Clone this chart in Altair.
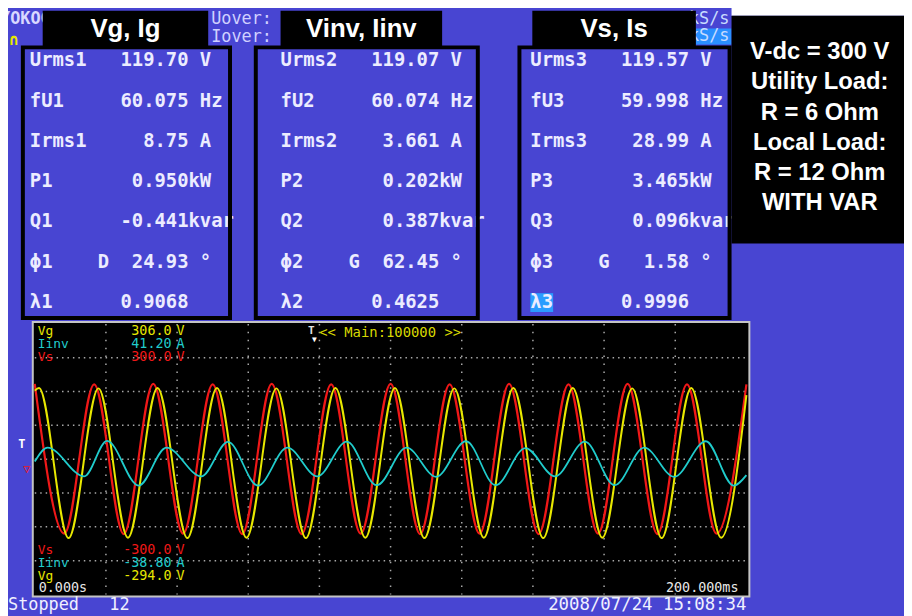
import altair as alt
import pandas as pd

# ---------------- data ----------------
panel_titles = ["Vg, Ig", "Vinv, Iinv", "Vs, Is"]
meter_labels = [
    ["Urms1", "fU1", "Irms1", "P1", "Q1", "\u03d51", "\u03bb1"],
    ["Urms2", "fU2", "Irms2", "P2", "Q2", "\u03d52", "\u03bb2"],
    ["Urms3", "fU3", "Irms3", "P3", "Q3", "\u03d53", "\u03bb3"],
]
meter_values = [
    ["119.70", "60.075", "8.75", "0.950", "-0.441", "24.93", "0.9068"],
    ["119.07", "60.074", "3.661", "0.202", "0.387", "62.45", "0.4625"],
    ["119.57", "59.998", "28.99", "3.465", "0.096", "1.58", "0.9996"],
]
meter_units = [" V", " Hz", " A", "kW", "kvar", " \u00b0", ""]
phase_flags = ["D", "G", "G"]
info_lines = ["V-dc = 300 V", "Utility Load:", "R = 6 Ohm", "Local Load:", "R = 12 Ohm", "WITH VAR"]

scope_top_labels = ["Vg", "Iinv", "Vs"]
scope_top_values = ["306.0", "41.20", "300.0"]
scope_top_units = ["V", "A", "V"]
scope_bottom_labels = ["Vs", "Iinv", "Vg"]
scope_bottom_values = ["-300.0", "-38.80", "-294.0"]
scope_bottom_units = ["V", "A", "V"]
time_labels = ["0.000s", "200.000ms"]
time_span_ms = [0, 200]
time_grid_ms = [20, 40, 60, 80, 100, 120, 140, 160, 180]
vs_grid_v = [-225, -150, -75, 0, 75, 150, 225]
status_left = "Stopped   12"
status_right = "2008/07/24 15:08:34"
main_label = "<< Main:100000 >>"

# waveform extrema (time ms, value)
vs_t = [0, 8.3, 16.7, 25.0, 33.3, 41.7, 50.0, 58.3, 66.6, 75.0, 83.3, 91.6, 100.0,
        108.3, 116.6, 125.0, 133.3, 141.6, 150.0, 158.3, 166.6, 175.0, 183.3, 191.6, 200.0]
vs_v = [167, -165, 166, -166, 167, -165, 166, -166, 167, -166, 166, -165, 167,
        -166, 166, -165, 167, -166, 166, -165, 167, -166, 166, -165, 166]
vg_t = [0, 1.2, 9.5, 17.9, 26.2, 34.5, 42.9, 51.2, 59.5, 67.9, 76.2, 84.5, 92.9, 101.2,
        109.5, 117.9, 126.2, 134.5, 142.9, 151.2, 159.5, 167.9, 176.2, 184.5, 192.9, 200.0]
vg_v = [158, 164, -169, 163, -168, 164, -169, 164, -168, 163, -169, 164, -168, 164,
        -169, 163, -168, 164, -169, 164, -168, 163, -169, 164, -168, 148]
iinv_t = [0, 3.6, 13.9, 20.3, 29.2, 37.0, 46.8, 54.3, 62.7, 71.0, 79.4, 87.7, 96.1,
          104.5, 112.8, 121.2, 129.5, 137.9, 146.2, 154.6, 163.0, 171.3, 179.7, 188.6, 196.4, 200.0]
iinv_v = [0.5, 4.6, -3.9, 6.6, -6.6, 4.6, -3.9, 6.3, -6.6, 4.6, -3.9, 6.4, -6.5,
          4.6, -4.0, 6.5, -6.5, 4.5, -3.9, 6.4, -6.5, 4.6, -4.0, 6.5, -6.6, -3.5]

# ---------------- styling / layout ----------------
BLUE = "#4845d2"
TXT = "#ececff"
MONO = "DejaVu Sans Mono"
SANS = "Liberation Sans"
YEL, CYA, RED = "#e8e800", "#20cccc", "#f01818"
OX, OY = 8, 8  # page margin
NB = "\u00a0"


def px(x):
    return x - OX


def py(y):
    return y - OY


def keep_spaces(s):
    return s.replace(" ", NB)


dummy = pd.DataFrame({"k": [0]})


def rect(x0, y0, x1, y1, **kw):
    return alt.Chart(dummy).mark_rect(**kw).encode(
        x=alt.value(px(x0)), x2=alt.value(px(x1)), y=alt.value(py(y0)), y2=alt.value(py(y1)))


def label(text, x, y, **kw):
    kw.setdefault("baseline", "middle")
    return alt.Chart(dummy).mark_text(text=keep_spaces(text), **kw).encode(
        x=alt.value(px(x)), y=alt.value(py(y)))


layers = []

# top white strip on the right
layers.append(rect(738, 0, 920, 13, fill="white"))

# background screen texts
layers.append(label("YOKOGAWA", 0, 16, align="left", font=MONO, fontSize=17, fontWeight="bold", color="#d8d8ff"))
layers.append(label("\u2229", 14, 38, align="center", font=MONO, fontSize=16, fontWeight="bold", color="#e8e800"))
layers.append(label("Uover:", 213, 16, align="left", font=MONO, fontSize=17, color="#d0d0ff"))
layers.append(label("Iover:", 213, 35, align="left", font=MONO, fontSize=17, color="#d0d0ff"))
layers.append(rect(702, 26, 738, 42, fill="#2a90ff"))
layers.append(label("kS/s", 695, 16, align="left", font=MONO, fontSize=17, color="#c8dcff"))
layers.append(label("kS/s", 695, 34, align="left", font=MONO, fontSize=17, color="#c8dcff"))

# meter panels
panel_x = [30, 283, 535]
panel_box = [(23, 232), (258, 482), (524, 736)]
layers.append(rect(535, 293, 558, 312, fill="#2a9cff"))
for i in range(3):
    rows = []
    for j, (lab, val, unit) in enumerate(zip(meter_labels[i], meter_values[i], meter_units)):
        head = lab.ljust(6) + (phase_flags[i] if j == 5 else " ")
        rows.append({"row": j, "line": keep_spaces(head + val.rjust(7) + unit)})
    layers.append(
        alt.Chart(pd.DataFrame(rows)).mark_text(
            align="left", baseline="middle", font=MONO, fontSize=19, fontWeight="bold", color=TXT
        ).encode(
            x=alt.value(px(panel_x[i])),
            y=alt.Y("row:Q", scale=alt.Scale(domain=[0, 6], range=[py(58), py(302)]), axis=None),
            text="line:N",
        )
    )
for (x0, x1) in panel_box:
    layers.append(rect(x0, 45, x1, 318, fillOpacity=0, stroke="black", strokeWidth=4))

# title boxes
title_boxes = [(43, 210), (283, 446), (537, 702)]
for (x0, x1), t in zip(title_boxes, panel_titles):
    layers.append(rect(x0, 8, x1, 45, fill="black"))
    layers.append(label(t, (x0 + x1) / 2, 35, align="center", baseline="alphabetic",
                        font=SANS, fontSize=26, fontWeight="bold", color="white"))

# right info box
layers.append(rect(738, 13, 920, 243, fill="black"))
layers.append(
    alt.Chart(pd.DataFrame({"row": list(range(len(info_lines))), "line": info_lines})).mark_text(
        align="center", baseline="middle", font=SANS, fontSize=24, fontWeight="bold", color="white"
    ).encode(
        x=alt.value(px(827)),
        y=alt.Y("row:Q", scale=alt.Scale(domain=[0, 5], range=[py(50), py(202)]), axis=None),
        text="line:N",
    )
)

# oscilloscope screen
layers.append(rect(33, 322, 756, 599, fill="black", stroke="#c4c4c4", strokeWidth=2))

t_scale = alt.Scale(domain=time_span_ms, range=[px(35), px(753)], nice=False, zero=False)


def v_scale(lo, hi):
    return alt.Scale(domain=[lo, hi], range=[py(597), py(324)], nice=False, zero=False)


layers.append(
    alt.Chart(pd.DataFrame({"t": time_grid_ms})).mark_rule(
        color="#a8a8a8", strokeDash=[1.5, 6.5], strokeWidth=1.5
    ).encode(x=alt.X("t:Q", scale=t_scale, axis=None), y=alt.value(py(324)), y2=alt.value(py(597)))
)
layers.append(
    alt.Chart(pd.DataFrame({"v": vs_grid_v})).mark_rule(
        color="#a8a8a8", strokeDash=[1.5, 4], strokeWidth=1.5
    ).encode(y=alt.Y("v:Q", scale=v_scale(-300, 300), axis=None), x=alt.value(px(35)), x2=alt.value(px(753)))
)

vs_dom = [float(scope_bottom_values[0]), float(scope_top_values[2])]
vg_dom = [float(scope_bottom_values[2]), float(scope_top_values[0])]
ii_dom = [float(scope_bottom_values[1]), float(scope_top_values[1])]

for tt, vv, dom, col, w in [(vs_t, vs_v, vs_dom, RED, 2.2), (vg_t, vg_v, vg_dom, YEL, 2.0),
                            (iinv_t, iinv_v, ii_dom, CYA, 1.8)]:
    layers.append(
        alt.Chart(pd.DataFrame({"t": tt, "v": vv})).mark_line(
            color=col, strokeWidth=w, interpolate="monotone"
        ).encode(
            x=alt.X("t:Q", scale=t_scale, axis=None),
            y=alt.Y("v:Q", scale=v_scale(*dom), axis=None),
        )
    )

# scope labels
top_cols = [YEL, CYA, RED]
bot_cols = [RED, CYA, YEL]
for k in range(3):
    y = 331 + 13 * k
    layers.append(label(scope_top_labels[k], 38, y, align="left", font=MONO, fontSize=13, color=top_cols[k]))
    layers.append(label(scope_top_values[k], 173, y, align="right", font=MONO, fontSize=13.5, color=top_cols[k]))
    layers.append(label(scope_top_units[k], 178, y, align="left", font=MONO, fontSize=13.5, color=top_cols[k]))
    y2 = 552 + 13 * k
    layers.append(label(scope_bottom_labels[k], 38, y2, align="left", font=MONO, fontSize=13, color=bot_cols[k]))
    layers.append(label(scope_bottom_values[k], 173, y2, align="right", font=MONO, fontSize=13.5, color=bot_cols[k]))
    layers.append(label(scope_bottom_units[k], 178, y2, align="left", font=MONO, fontSize=13.5, color=bot_cols[k]))
layers.append(label(time_labels[0], 39, 590, align="left", font=MONO, fontSize=13.5, color="#e8e8e8"))
layers.append(label(time_labels[1], 745, 590, align="right", font=MONO, fontSize=13.5, color="#e8e8e8"))
layers.append(label("T", 314, 331, align="center", font=MONO, fontSize=11, fontWeight="bold", color="#e0e0e0"))
layers.append(label("\u25bc", 317, 340, align="center", font=MONO, fontSize=8, color="#ffffff"))
layers.append(label(main_label, 322, 333, align="left", font=MONO, fontSize=14, color="#d8d800"))

# left markers
layers.append(label("T", 22, 445, align="center", font=MONO, fontSize=12, fontWeight="bold", color="#ffffff"))
layers.append(label("\u25bd", 27, 470, align="center", font=MONO, fontSize=12, color=RED))

# status bar
layers.append(label(status_left, 8, 608, align="left", font=MONO, fontSize=17, color="#f0f0ff"))
layers.append(label(status_right, 753, 608, align="right", font=MONO, fontSize=17.5, color="#f0f0ff"))

chart = (
    alt.layer(*layers)
    .resolve_scale(x="independent", y="independent")
    .properties(width=904, height=608, padding=0, background=BLUE,
                autosize=alt.AutoSizeParams(type="none"))
    .configure_view(stroke=None)
)

chart.save("out.html", embed_options={"renderer": "svg", "actions": False})
